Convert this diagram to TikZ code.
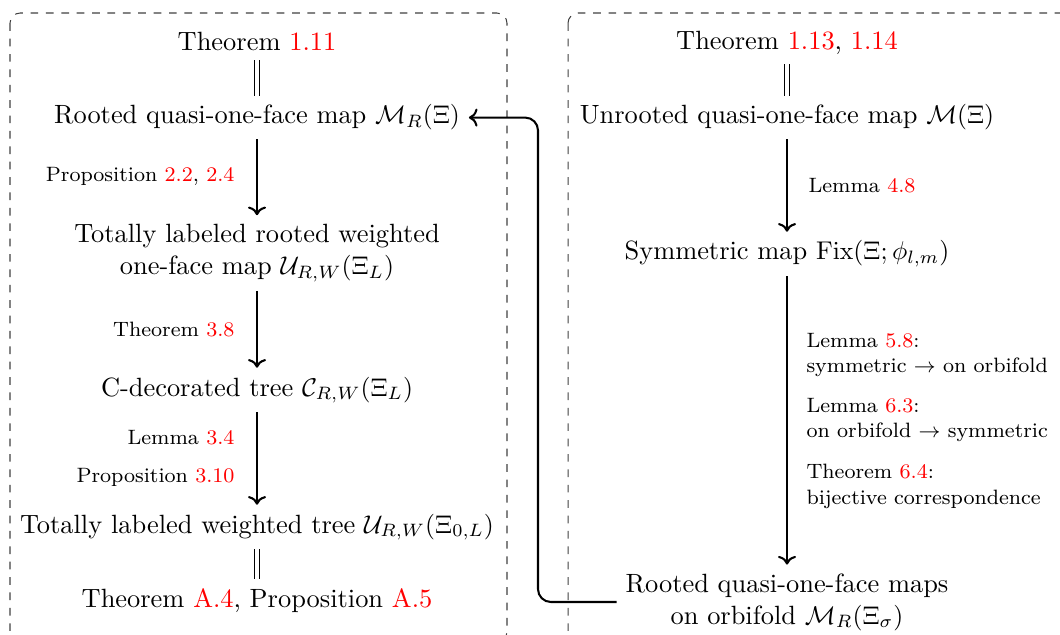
\documentclass[tikz,border=0pt]{standalone}
\usetikzlibrary{arrows.meta}
\newcommand\myref[1]{\textcolor{red}{#1}}
\begin{document}
\begin{tikzpicture}[x=0.39pt,y=-0.39pt,
  mainnode/.style={inner sep=3.33pt, font=\fontsize{10.3}{12.4}\selectfont},
  lab/.style={inner sep=0pt, font=\fontsize{8.1}{9.8}\selectfont},
  implies/.style={->, thick},
  equals/.style={double, double distance=1.9pt, line width=0.4pt},
  frame/.style={draw=black!75, dashed, line width=0.4pt, rounded corners=4pt}]
\clip (0,0) rectangle (1060,635);
\useasboundingbox (0,0) rectangle (1060,635);

% frames
\draw[frame] (10,13) rectangle (507,642);
\draw[frame] (568,13) rectangle (1075,642);

% left column
\node[mainnode, anchor=base] (L1) at (257,51) {Theorem \myref{1.11}};
\node[mainnode, anchor=base] (L2) at (257,124) {Rooted quasi-one-face map $\mathcal{M}_R(\Xi)$};
\node[mainnode, align=center] (L3) at (257,253) {Totally labeled rooted weighted\\one-face map $\mathcal{U}_{R,W}(\Xi_L)$};
\node[mainnode, anchor=base] (L4) at (257,396) {C-decorated tree $\mathcal{C}_{R,W}(\Xi_L)$};
\node[mainnode, anchor=base] (L5) at (257,533) {Totally labeled weighted tree $\mathcal{U}_{R,W}(\Xi_{0,L})$};
\node[mainnode, anchor=base] (L6) at (257,607) {Theorem \myref{A.4}, Proposition \myref{A.5}};

% right column
\node[mainnode, anchor=base] (R1) at (787,50) {Theorem \myref{1.13}, \myref{1.14}};
\node[mainnode, anchor=base] (R2) at (787,124) {Unrooted quasi-one-face map $\mathcal{M}(\Xi)$};
\node[mainnode, anchor=base] (R3) at (787,260) {Symmetric map $\mathrm{Fix}(\Xi;\phi_{l,m})$};
\node[mainnode, align=center] (R4) at (787,602) {Rooted quasi-one-face maps\\on orbifold $\mathcal{M}_R(\Xi_\sigma)$};

% equalities
\draw[equals] (L1) -- (L2);
\draw[equals] (L5) -- (L6);
\draw[equals] (R1) -- (R2);

% implications
\draw[implies] (L2) -- (L3);
\draw[implies] (L3) -- (L4);
\draw[implies] (L4) -- (L5);
\draw[implies] (R2) -- (R3);
\draw[implies] (R3) -- (R4);

% labels
\node[lab, anchor=base east] (p22) at (235,182) {Proposition \myref{2.2}, \myref{2.4}};
\node[lab, anchor=base east] (t38) at (235,337) {Theorem \myref{3.8}};
\node[lab, anchor=base east] (l34) at (235,444) {Lemma \myref{3.4}};
\node[lab, anchor=base east] (p310) at (235,482) {Proposition \myref{3.10}};
\node[lab, anchor=base west] (l48) at (808,193) {Lemma \myref{4.8}};
\node[lab, anchor=north west, align=left] (l58) at (806,333) {Lemma \myref{5.8}:\\symmetric $\to$ on orbifold};
\node[lab, anchor=north west, align=left] (l63) at (806,398) {Lemma \myref{6.3}:\\on orbifold $\to$ symmetric};
\node[lab, anchor=north west, align=left] (t64) at (806,464) {Theorem \myref{6.4}:\\bijective correspondence};

% connector
\coordinate (bend) at (538,360);
\draw[thick, ->, rounded corners=5pt] (R4.west) -| (bend) |- (L2.east);
\end{tikzpicture}
\end{document}
